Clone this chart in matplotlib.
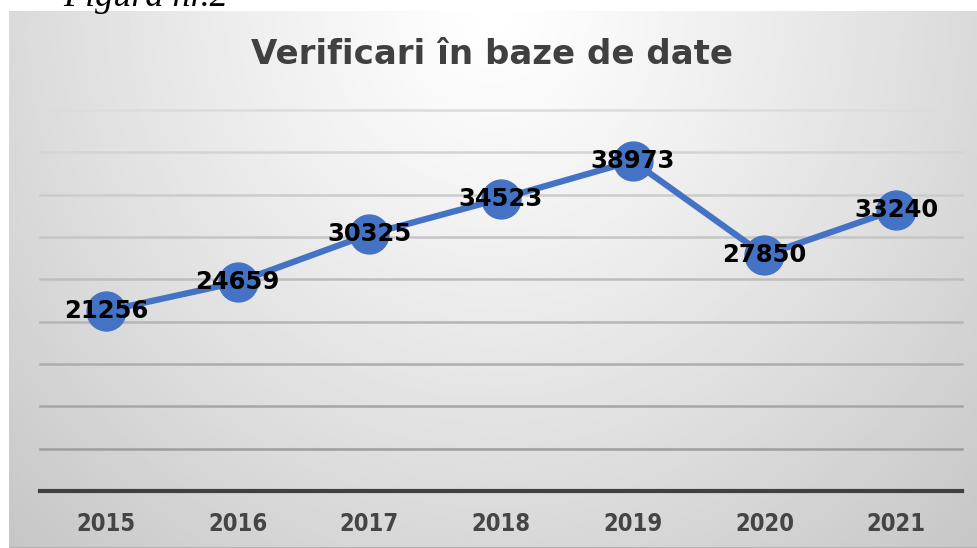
import matplotlib
matplotlib.use("Agg")
import matplotlib.pyplot as plt
import numpy as np

# Data
years = ["2015", "2016", "2017", "2018", "2019", "2020", "2021"]
checks = [21256, 24659, 30325, 34523, 38973, 27850, 33240]
grid_values = [5000, 10000, 15000, 20000, 25000, 30000, 35000, 40000, 45000]

W, H = 977, 548
fig = plt.figure(figsize=(W / 100, H / 100), dpi=100)
fig.patch.set_facecolor("white")

# Chart panel with a soft radial gradient (white top centre, grey edges)
bg = fig.add_axes([9 / W, 0, 1 - 9 / W, 1 - 11 / H])
gx, gy = np.meshgrid(np.linspace(0, 1, 400), np.linspace(0, 1, 240))
d = np.sqrt(((gx - 0.5) / 0.6) ** 2 + (gy / 1.15) ** 2)
shade = np.clip(1.0 - 0.18 * d ** 1.15, 0, 1)
bg.imshow(shade, cmap="gray", vmin=0, vmax=1, aspect="auto",
          extent=[0, 1, 1, 0], interpolation="bilinear")
bg.axhline(1, color="#b4b4b4", lw=1.5)
bg.set_xlim(0, 1)
bg.set_ylim(1, 0)
bg.axis("off")

# Caption above the chart (cut off at the top, as in the source)
fig.text(63 / W, 1 - 6 / H, "Figura nr.2", family="Liberation Serif",
         style="italic", fontsize=26, color="black", va="baseline")

# Main plot area
ax = fig.add_axes([40 / W, 57 / H, 922 / W, (491 - 110) / H])
ax.patch.set_alpha(0)
x = np.arange(len(years))
ax.set_xlim(-0.5, len(years) - 0.5)
ax.set_ylim(0, 45000)

# gridlines get darker towards the bottom, like the reference
light = np.array([0xdc, 0xdc, 0xdc]) / 255
dark = np.array([0x96, 0x96, 0x96]) / 255
for gv in grid_values:
    t = 1 - gv / 45000
    ax.axhline(gv, color=tuple(light + (dark - light) * t), lw=1.8, zorder=1,
               clip_on=False)
ax.axhline(0, color="#404040", lw=3, zorder=2, clip_on=False)

ax.plot(x, checks, color="#4472C4", lw=4.5, marker="o", markersize=28,
        zorder=3, clip_on=False)

for xi, v in zip(x, checks):
    ax.text(xi, v, str(v), ha="center", va="center", fontsize=17.5,
            fontweight="bold", family="DejaVu Sans", color="black", zorder=4)

ax.set_xticks(x)
ax.set_xticklabels(years, family="DejaVu Sans", fontstretch="condensed",
                   fontsize=17, fontweight="bold", color="#454545")
ax.tick_params(axis="x", length=0, pad=15)
ax.set_yticks([])
for s in ax.spines.values():
    s.set_visible(False)

fig.text(492 / W, 1 - 54 / H, "Verificari în baze de date", ha="center",
         va="center", family="DejaVu Sans", fontstretch="normal",
         fontweight="bold", fontsize=24.5, color="#404040")

fig.savefig("out.png", dpi=100)
